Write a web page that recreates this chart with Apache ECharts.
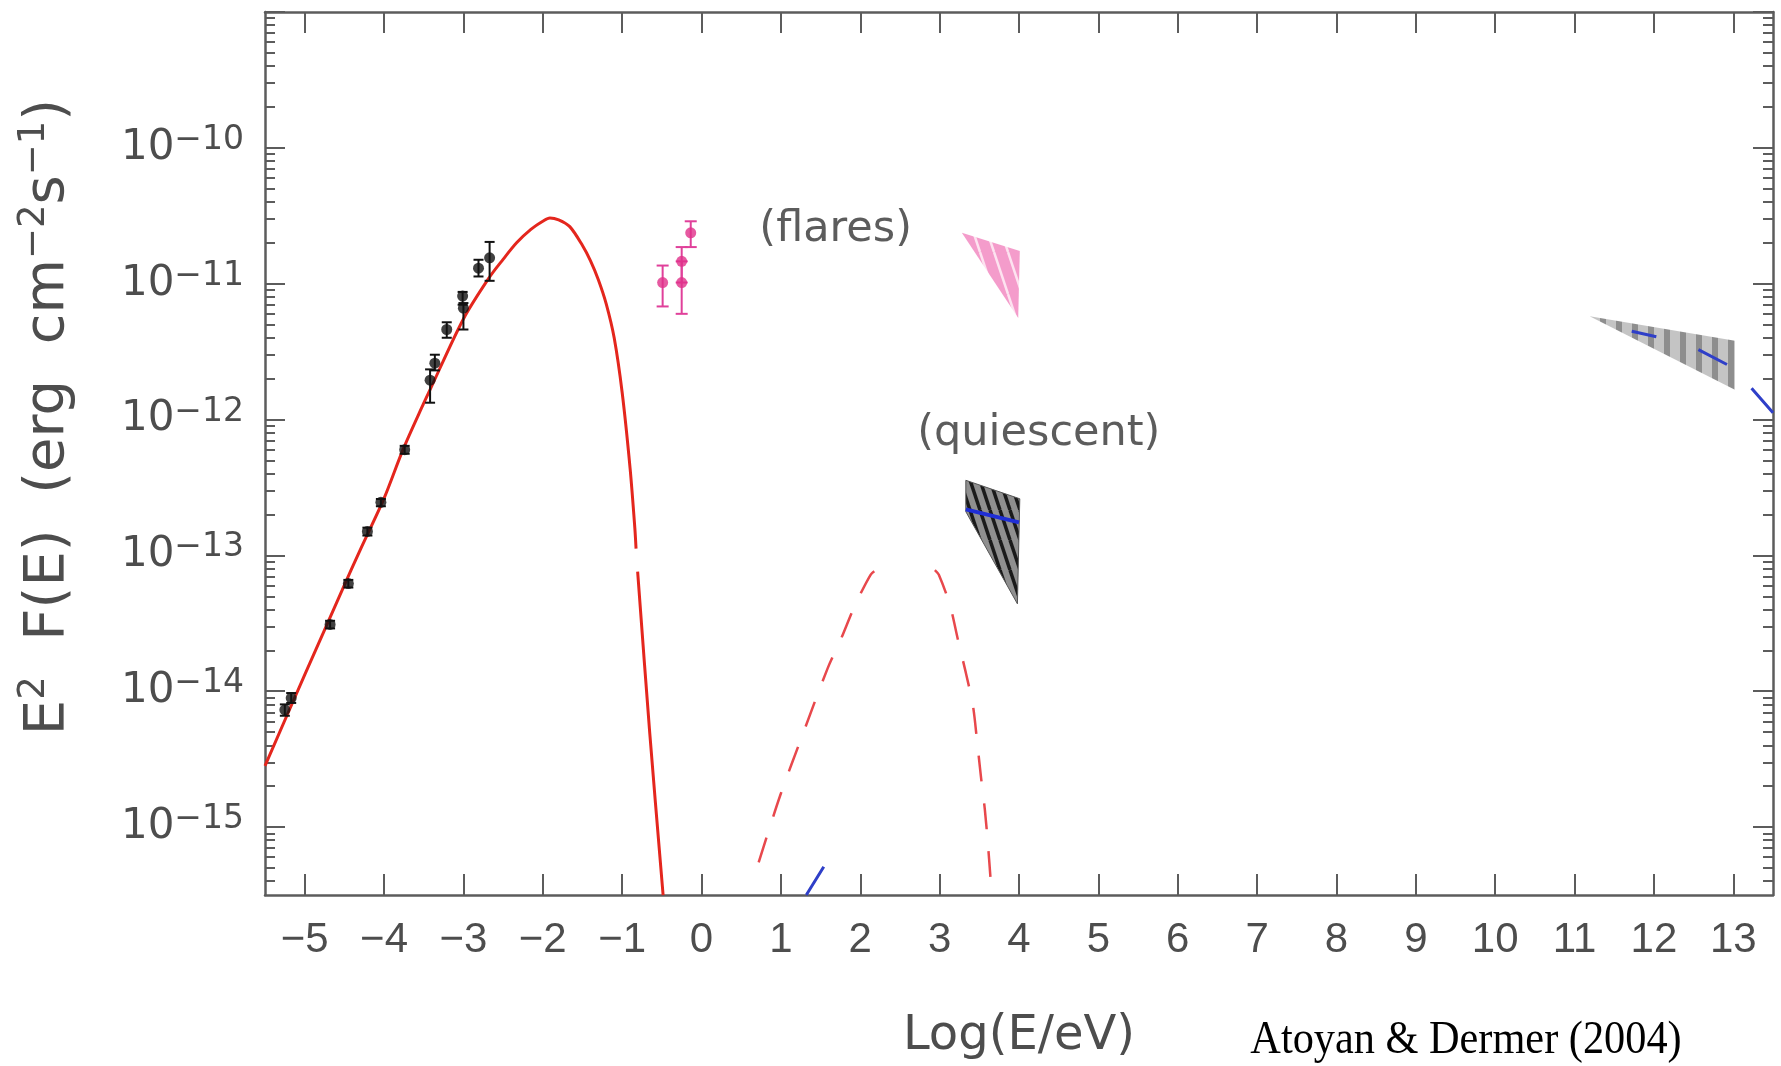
<!DOCTYPE html>
<html>
<head>
<meta charset="utf-8">
<script src="https://cdn.jsdelivr.net/npm/echarts@6/dist/echarts.min.js"></script>
<style>html,body{margin:0;padding:0;background:#fff}#c{width:1781px;height:1066px}</style>
</head>
<body>
<div id="c"></div>
<script>
// ---------------- axes / ticks ----------------
const xRange = [-5.5, 13.5];
const yRangeLog = [-15.5, -9];
const xTickValues = [-5,-4,-3,-2,-1,0,1,2,3,4,5,6,7,8,9,10,11,12,13];
const yDecadeTicks = [-15,-14,-13,-12,-11,-10,-9];
const yLabelDecades = [-15,-14,-13,-12,-11,-10];
const minorFactors = [2,3,4,5,6,7,8,9];

// ---------------- red solid model (synchrotron) ----------------
const redX = [-5.5,-5.0,-4.5,-4.3,-4.0,-3.76,-3.5,-3.42,-3.0,-2.67,-2.5,-2.33,-2.15,-2.0,-1.91,-1.8,-1.66,-1.5,-1.4,-1.3,-1.2,-1.1,-1.0,-0.9,-0.84,-0.825,-0.815,-0.805,-0.652,-0.484];
const redY = [2.82e-15,1.32e-14,6.03e-14,1.10e-13,2.63e-13,6.03e-13,1.32e-12,1.66e-12,5.50e-12,1.12e-11,1.51e-11,2.00e-11,2.51e-11,2.88e-11,3.05e-11,2.95e-11,2.63e-11,1.91e-11,1.48e-11,1.07e-11,7.08e-12,3.98e-12,1.58e-12,4.37e-13,1.58e-13,1.12e-13,null,7.59e-14,4.90e-15,3.16e-16];

// ---------------- red dashed model ----------------
const dashX = [0.72,0.99,1.28,1.59,1.76,1.93,2.13,2.20,2.55,2.94,2.99,3.13,3.23,3.33,3.42,3.47,3.52,3.57,3.61,3.64];
const dashY = [5.5e-16,1.7e-15,4.9e-15,1.48e-14,2.45e-14,4.24e-14,7.2e-14,7.8e-14,null,7.8e-14,7.2e-14,4.3e-14,2.4e-14,1.37e-14,7.8e-15,4.4e-15,2.36e-15,1.34e-15,7.3e-16,4.3e-16];

// ---------------- blue model (visible pieces) ----------------
const blueX = [1.32,1.54,2.5,11.72,12.03,12.3,12.56,12.92,13.1,13.23,13.5];
const blueY = [3.16e-16,5.1e-16,null,4.47e-12,4.07e-12,null,3.27e-12,2.54e-12,null,1.7e-12,1.12e-12];
const blueQX = [3.33,4.0];
const blueQY = [2.18e-13,1.75e-13];

// ---------------- black data (radio/optical/X) ----------------
const blackX  = [-5.25,-5.17,-4.68,-4.45,-4.21,-4.04,-3.74,-3.42,-3.36,-3.21,-3.01,-3.00,-2.81,-2.67];
const blackY  = [7.3e-15,8.9e-15,3.1e-14,6.2e-14,1.5e-13,2.46e-13,6.0e-13,1.95e-12,2.6e-12,4.6e-12,8.1e-12,6.6e-12,1.3e-11,1.55e-11];
const blackLo = [6.6e-15,8.2e-15,2.9e-14,5.8e-14,1.4e-13,2.3e-13,5.6e-13,1.33e-12,2.3e-12,4.0e-12,7.0e-12,4.6e-12,1.13e-11,1.05e-11];
const blackHi = [8.0e-15,9.7e-15,3.3e-14,6.6e-14,1.6e-13,2.6e-13,6.4e-13,2.34e-12,3.0e-12,5.2e-12,8.7e-12,7.2e-12,1.5e-11,2.03e-11];

// ---------------- magenta data (flares) ----------------
const pinkX  = [-0.49,-0.25,-0.25,-0.136];
const pinkY  = [1.02e-11,1.02e-11,1.46e-11,2.37e-11];
const pinkLo = [6.8e-12,6.0e-12,1.02e-11,1.86e-11];
const pinkHi = [1.36e-11,1.46e-11,1.86e-11,2.88e-11];

// ---------------- bow-tie wedges ----------------
const flaresX = [3.28,4.01,3.99];
const flaresY = [2.37e-11,1.74e-11,5.6e-12];
const quietX  = [3.33,4.01,3.98,3.33];
const quietY  = [3.57e-13,2.61e-13,4.4e-14,2.1e-13];
const tevX    = [11.19,13.02,13.02];
const tevY    = [5.75e-12,3.8e-12,1.66e-12];

// ---------------- annotations ----------------
const annotText = ['(flares)','(quiescent)'];
const annotX = [1.69,4.25];
const annotY = [2.5e-11,7.9e-13];

// =============== build ===============
const L = v => (v == null ? '-' : Math.log10(v));
const pts = (xs, ys) => xs.map((x, i) => [x, L(ys[i])]);

const minorTicks = [];
for (let n = -16; n <= -10; n++) {
  for (const k of minorFactors) {
    const v = n + Math.log10(k);
    if (v > yRangeLog[0] && v < yRangeLog[1]) minorTicks.push(v);
  }
}

function stripeTile(w, h, bg, stripe, lw) {
  const c = document.createElement('canvas');
  c.width = w; c.height = h;
  const g = c.getContext('2d');
  g.fillStyle = bg; g.fillRect(0, 0, w, h);
  g.strokeStyle = stripe; g.lineWidth = lw;
  for (const k of [-w, 0, w]) {
    g.beginPath(); g.moveTo(k, 0); g.lineTo(k + w, h); g.stroke();
  }
  return {image: c, repeat: 'repeat'};
}
function bandTile(w, bg, band, bw) {
  const c = document.createElement('canvas');
  c.width = w; c.height = 4;
  const g = c.getContext('2d');
  g.fillStyle = bg; g.fillRect(0, 0, w, 4);
  g.fillStyle = band; g.fillRect(0, 0, bw, 4);
  return {image: c, repeat: 'repeat'};
}

const axisColor = '#5c5c5c';
const labelColor = '#4d4d4d';

function errRender(color, cap) {
  return function (params, api) {
    const x = api.value(0), lo = api.value(1), hi = api.value(2);
    const a = api.coord([x, hi]), b = api.coord([x, lo]);
    const s = {stroke: color, lineWidth: 2};
    return {type: 'group', children: [
      {type: 'line', shape: {x1: a[0], y1: a[1], x2: b[0], y2: b[1]}, style: s},
      {type: 'line', shape: {x1: a[0] - cap, y1: a[1], x2: a[0] + cap, y2: a[1]}, style: s},
      {type: 'line', shape: {x1: b[0] - cap, y1: b[1], x2: b[0] + cap, y2: b[1]}, style: s}
    ]};
  };
}
function polyRender(xs, ys, fill, stroke) {
  return function (params, api) {
    const points = xs.map((x, i) => api.coord([x, L(ys[i])]));
    return {type: 'polygon', shape: {points}, style: {fill, stroke: stroke || 'none', lineWidth: 1}};
  };
}

function yAxisDef(pos, ticks, len, showLine, showLabel) {
  return {
    type: 'value', position: pos, min: yRangeLog[0], max: yRangeLog[1],
    axisLine: {show: showLine, onZero: false, lineStyle: {color: axisColor, width: 2.5}},
    axisTick: {show: true, inside: true, length: len, customValues: ticks, lineStyle: {color: axisColor, width: 2}},
    axisLabel: showLabel ? {
      show: true, customValues: yLabelDecades, margin: 21,
      fontSize: 42, lineHeight: 48, fontFamily: 'DejaVu Sans', color: labelColor,
      formatter: v => '10{sup|\u2212' + Math.abs(Math.round(v)) + '}',
      rich: {sup: {fontSize: 33, lineHeight: 22, verticalAlign: 'top', fontFamily: 'DejaVu Sans', color: labelColor}}
    } : {show: false},
    splitLine: {show: false}
  };
}
function xAxisDef(pos, showLabel) {
  const ax = {
    type: 'value', position: pos, min: xRange[0], max: xRange[1],
    axisLine: {show: true, onZero: false, lineStyle: {color: axisColor, width: 2.5}},
    axisTick: {show: true, inside: true, length: 21, customValues: xTickValues, lineStyle: {color: axisColor, width: 2}},
    axisLabel: {show: false},
    splitLine: {show: false}
  };
  if (showLabel) {
    ax.axisLabel = {show: true, customValues: xTickValues, margin: 24, fontSize: 42,
      fontFamily: 'Liberation Sans', color: labelColor,
      formatter: v => (v < 0 ? '\u2212' + Math.abs(v) : String(v))};
    ax.name = 'Log(E/eV)';
    ax.nameLocation = 'middle';
    ax.nameGap = 118;
    ax.nameTextStyle = {fontSize: 48, fontFamily: 'DejaVu Sans', color: labelColor};
  }
  return ax;
}

const chart = echarts.init(document.getElementById('c'));
const option = {
  animation: false,
  backgroundColor: '#ffffff',
  grid: {left: 265, right: 8, top: 12, bottom: 171, containLabel: false, outerBoundsMode: 'none'},
  xAxis: [xAxisDef('bottom', true), xAxisDef('top', false)],
  yAxis: [
    yAxisDef('left', yDecadeTicks, 20, true, true),
    yAxisDef('left', minorTicks, 10, false, false),
    yAxisDef('right', yDecadeTicks, 20, true, false),
    yAxisDef('right', minorTicks, 10, false, false)
  ],
  graphic: [
    {type: 'text', x: 48, y: 417, rotation: Math.PI / 2,
     style: {text: 'E{sup|2}  F(E)  (erg  cm{sup|\u22122}s{sup|\u22121})', fontSize: 56, lineHeight: 64,
       fontFamily: 'DejaVu Sans', fill: labelColor, align: 'center', verticalAlign: 'middle',
       rich: {sup: {fontSize: 37, lineHeight: 26, verticalAlign: 'top', fontFamily: 'DejaVu Sans', fill: labelColor}}}},
    {type: 'text', x: 1466, y: 1041, scaleX: 0.92, originX: 0, originY: 0,
     style: {text: 'Atoyan & Dermer (2004)', fontSize: 46, fontFamily: 'Liberation Serif', fill: '#000',
       align: 'center', verticalAlign: 'middle'}}
  ],
  series: [
    {type: 'custom', name: 'TeV wedge', renderItem: polyRender(tevX, tevY, bandTile(16, '#c4c4c4', '#8e8e8e', 6)),
     data: [[tevX[0], L(tevY[0])]], z: 2},
    {type: 'custom', name: 'flares wedge', renderItem: polyRender(flaresX, flaresY, stripeTile(14, 42, '#f49ccb', '#fde3f0', 2.5)),
     data: [[flaresX[0], L(flaresY[0])]], z: 2},
    {type: 'custom', name: 'quiescent wedge', renderItem: polyRender(quietX, quietY, stripeTile(10, 30, '#8f8f8f', '#1a1a1a', 3.5), '#555'),
     data: [[quietX[0], L(quietY[0])]], z: 2},
    {type: 'line', name: 'red model', data: pts(redX, redY), smooth: 0.3, showSymbol: false,
     lineStyle: {color: '#e4261d', width: 3}, z: 5},
    {type: 'line', name: 'red dashed', data: pts(dashX, dashY), smooth: 0.3, showSymbol: false,
     lineStyle: {color: '#e8484c', width: 2.5, type: [26, 22]}, z: 5},
    {type: 'line', name: 'blue', data: pts(blueX, blueY), showSymbol: false,
     lineStyle: {color: '#2f3fc8', width: 3}, z: 6},
    {type: 'line', name: 'blue quiescent', data: pts(blueQX, blueQY), showSymbol: false,
     lineStyle: {color: '#1f2ed6', width: 4}, z: 6},
    {type: 'custom', name: 'black err', renderItem: errRender('#111', 5), encode: {x: 0, y: [1, 2]},
     data: blackX.map((x, i) => [x, L(blackLo[i]), L(blackHi[i])]), z: 7},
    {type: 'scatter', name: 'black pts', data: pts(blackX, blackY), symbol: 'circle', symbolSize: 11,
     itemStyle: {color: '#111'}, z: 8},
    {type: 'custom', name: 'pink err', renderItem: errRender('#e0409a', 6), encode: {x: 0, y: [1, 2]},
     data: pinkX.map((x, i) => [x, L(pinkLo[i]), L(pinkHi[i])]), z: 7},
    {type: 'scatter', name: 'pink pts', data: pts(pinkX, pinkY), symbol: 'circle', symbolSize: 11,
     itemStyle: {color: '#e0308a'}, z: 8},
    {type: 'scatter', name: 'annotations', data: pts(annotX, annotY), symbolSize: 0, z: 9,
     label: {show: true, position: 'inside', fontSize: 43, fontFamily: 'DejaVu Sans', color: '#333',
       formatter: p => annotText[p.dataIndex]}}
  ]
};
chart.setOption(option);
</script>
</body>
</html>
